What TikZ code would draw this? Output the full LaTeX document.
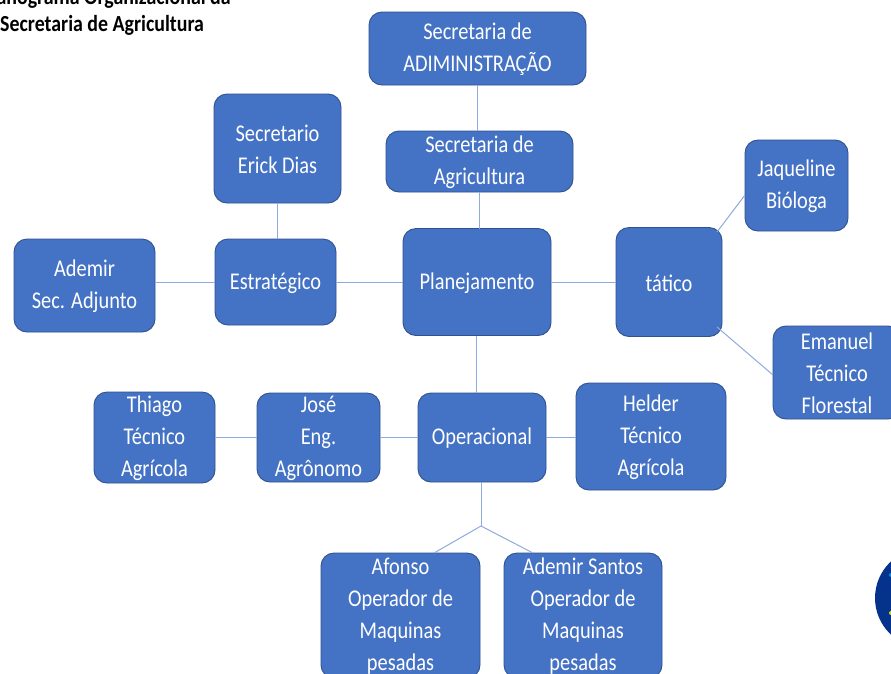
\documentclass[tikz,border=0pt]{standalone}
\usepackage{fontspec}
\setmainfont{Carlito}
\newfontfamily\boxfont[FakeStretch=0.85]{Carlito}
\newfontfamily\titlefont[FakeStretch=0.865]{Carlito}
\usetikzlibrary{calc}
\definecolor{boxfill}{HTML}{4472C4}
\definecolor{boxline}{HTML}{2F528F}
\definecolor{conn}{HTML}{8FAADC}
\definecolor{seal}{HTML}{05338C}
\tikzset{
  boxtext/.style={text=white,align=center,inner sep=0pt,yshift=-1pt,font=\boxfont\fontsize{24}{32}\selectfont},
  orgbox/.style n args={3}{draw=boxline,line width=.9pt,fill=boxfill,rounded corners=13pt,minimum width=#1,minimum height=#2,inner sep=0pt,
    label={[boxtext]center:{#3}}},
  link/.style={draw=conn,line width=1pt},
  titletext/.style={font=\titlefont\bfseries\fontsize{23}{26}\selectfont,anchor=west,inner sep=0pt,text=black}
}
\begin{document}
\begin{tikzpicture}[x=1pt,y=-1pt]
\useasboundingbox (0,0) rectangle (891,673);
\clip (0,0) rectangle (891,673);
\fill[white] (0,0) rectangle (891,673);
\node[titletext] (title0) at (-33,-2) {Organograma Organizacional da};
\node[titletext] (title1) at (0,25) {Secretaria de Agricultura};
\fill[seal] (925,598) circle (50);
\fill[cyan!70!blue] (891,575) circle (2);
\fill[yellow!80!green] (891,613) circle (2);
\coordinate (jn) at (481,526);
\coordinate (jnTop) at (481,482);
\coordinate (cAdmB) at (477,85);
\coordinate (cAgrT) at (477,131);
\coordinate (cAgrB) at (479,192);
\coordinate (cPlaT) at (479,229);
\coordinate (cSecB) at (277,203);
\coordinate (cEstT) at (277,239);
\coordinate (cPlaB) at (476,336);
\coordinate (cOpeT) at (476,393);
\coordinate (cTatN) at (717,232);
\coordinate (cJaqW) at (745,195);
\coordinate (cTatS) at (717,327);
\coordinate (cEmaW) at (773,375);
\coordinate (cAfoT) at (434,553);
\coordinate (cSanT) at (533,553);
\node[orgbox={217}{73}{Secretaria de\\ADIMINISTRAÇÃO}] (adm) at (477.5,48.5) {};
\node[orgbox={187}{61}{Secretaria de\\Agricultura}] (agr) at (479.5,161.5) {};
\node[orgbox={127}{109}{Secretario\\Erick Dias}] (sec) at (277.5,148.5) {};
\node[orgbox={103}{91}{Jaqueline\\Bióloga}] (jaq) at (796.5,185.5) {};
\node[orgbox={121}{86}{Estratégico}] (est) at (275.5,282) {};
\node[orgbox={148}{107}{Planejamento}] (pla) at (477,282) {};
\node[orgbox={106}{109}{tático}] (tat) at (669,282) {};
\node[orgbox={141}{93}{Ademir\\Sec. Adjunto}] (ade) at (84.5,285.5) {};
\node[orgbox={128}{93}{Emanuel\\Técnico\\Florestal}] (ema) at (837,372.5) {};
\node[orgbox={128}{89}{Operacional}] (ope) at (482,437.5) {};
\node[orgbox={150}{107}{Helder\\Técnico\\Agrícola}] (hel) at (651,436.5) {};
\node[orgbox={123}{89}{José\\Eng.\\Agrônomo}] (jos) at (318.5,437.5) {};
\node[orgbox={121}{91}{Thiago\\Técnico\\Agrícola}] (thi) at (154.5,437.5) {};
\node[orgbox={159}{125}{Afonso\\Operador de\\Maquinas\\pesadas}] (afo) at (400.5,615.5) {};
\node[orgbox={158}{125}{Ademir Santos\\Operador de\\Maquinas\\pesadas}] (san) at (583,615.5) {};
\draw[link] (cAdmB) -- (cAgrT);
\draw[link] (cAgrB) -- (cPlaT);
\draw[link] (cSecB) -- (cEstT);
\draw[link] (ade.east |- est) -- (est.west);
\draw[link] (est.east) -- (pla.west);
\draw[link] (pla.east) -- (tat.west);
\draw[link] (cTatN) -- (cJaqW);
\draw[link] (cTatS) -- (cEmaW);
\draw[link] (cPlaB) -- (cOpeT);
\draw[link] (ope.west) -- (jos.east);
\draw[link] (jos.west) -- (thi.east);
\draw[link] (ope.east) -- (hel.west |- ope);
\draw[link] (jnTop) -- (jn);
\draw[link] (jn) -- (cAfoT);
\draw[link] (jn) -- (cSanT);
\end{tikzpicture}
\end{document}
